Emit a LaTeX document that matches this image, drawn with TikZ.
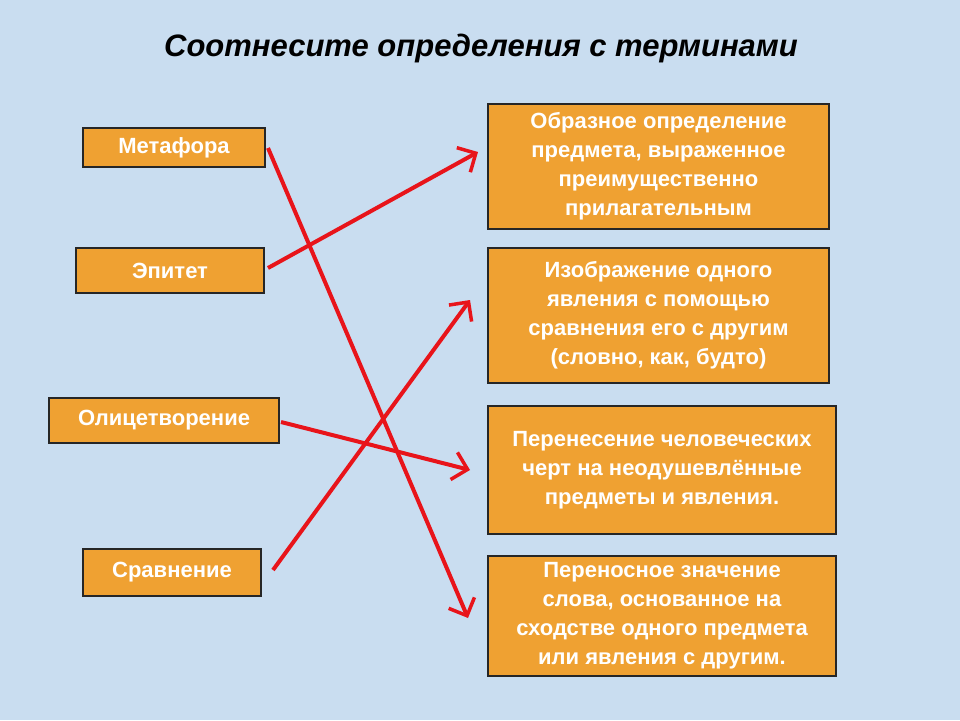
\documentclass[tikz,border=0pt]{standalone}
\usepackage{fontspec}
\setmainfont{Liberation Sans}
\usetikzlibrary{arrows.meta}
\definecolor{bg}{HTML}{C9DDF0}
\definecolor{box}{HTML}{EFA132}
\definecolor{arr}{HTML}{E8141A}
\tikzset{
 term/.style={draw=black!85,line width=2pt,fill=box,text=white,font=\fontsize{22}{26}\selectfont\bfseries,anchor=north west,inner sep=0pt},
 defn/.style={draw=black!85,line width=2pt,fill=box,text=white,font=\fontsize{22}{29}\selectfont\bfseries,align=center,anchor=north west,inner sep=0pt},
 link/.style={draw=arr,line width=4pt,-{Straight Barb[length=14pt,width=28pt,line width=3.5pt]}}
}
\begin{document}
\begin{tikzpicture}[x=1pt,y=-1pt]
\fill[bg] (0,0) rectangle (960,720);
\node[font=\fontsize{31}{36}\selectfont\bfseries\itshape] (title) at (481,48) {Соотнесите определения с терминами};
\node[term,minimum width=182pt,minimum height=39pt] (m) at (82,127) {Метафора};
\node[term,minimum width=188pt,minimum height=45pt] (e) at (75,247) {Эпитет};
\node[term,minimum width=230pt,minimum height=45pt] (o) at (48,397) {Олицетворение};
\node[term,minimum width=178pt,minimum height=47pt] (s) at (82,548) {Сравнение};
\node[defn,minimum width=341pt,minimum height=125pt] (d1) at (487,103) {Образное определение\\предмета, выраженное\\преимущественно\\прилагательным};
\node[defn,minimum width=341pt,minimum height=135pt] (d2) at (487,247) {Изображение одного\\явления с помощью\\сравнения его с другим\\(словно, как, будто)};
\node[defn,minimum width=348pt,minimum height=128pt] (d3) at (487,405) {Перенесение человеческих\\черт на неодушевлённые\\предметы и явления.};
\node[defn,minimum width=348pt,minimum height=120pt] (d4) at (487,555) {Переносное значение\\слова, основанное на\\сходстве одного предмета\\или явления с другим.};
\coordinate (m1) at (268,148); \coordinate (m2) at (468,618);
\coordinate (e1) at (268,268); \coordinate (e2) at (478,152);
\coordinate (o1) at (281,422); \coordinate (o2) at (470,470);
\coordinate (s1) at (273,570); \coordinate (s2) at (470,300);
\draw[link] (m1) -- (m2);
\draw[link] (e1) -- (e2);
\draw[link] (o1) -- (o2);
\draw[link] (s1) -- (s2);
\end{tikzpicture}
\end{document}
